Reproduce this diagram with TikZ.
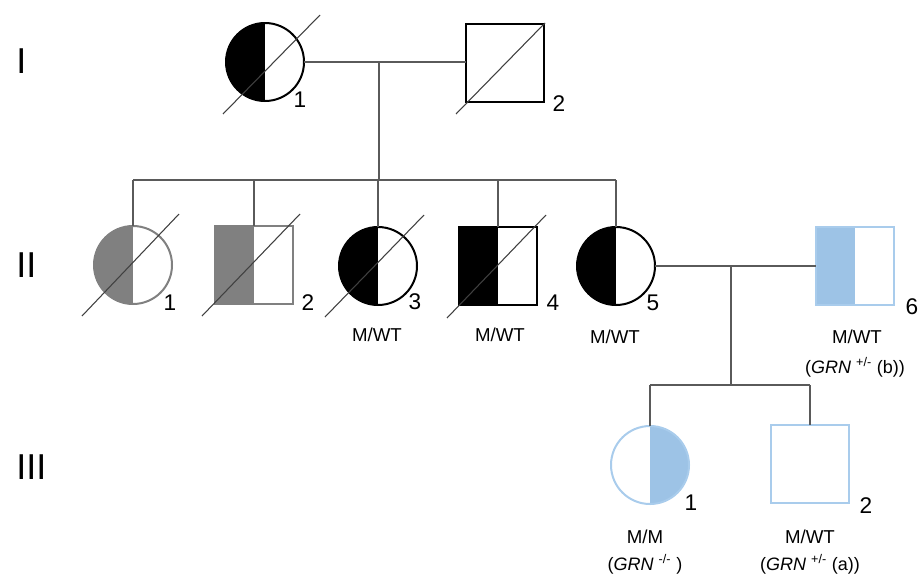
\documentclass[tikz,border=0pt]{standalone}
\usepackage{fontspec}
\setmainfont{Liberation Sans}
\usetikzlibrary{calc}
\definecolor{pedblue}{HTML}{9DC3E6}
\definecolor{pedblueline}{HTML}{A9CCEC}
\definecolor{pedgray}{HTML}{808080}
\definecolor{pedline}{HTML}{5A5A5A}
\definecolor{pedslash}{HTML}{404040}

\begin{document}
\begin{tikzpicture}[x=0.75pt,y=-0.75pt,
  female/.style={circle,draw=black,line width=1.5pt,minimum size=58.5pt,inner sep=0pt,outer sep=0pt,fill=white},
  male/.style={rectangle,draw=black,line width=1.5pt,minimum size=58.5pt,inner sep=0pt,outer sep=0pt,fill=white},
  lefthalf/.style={path picture={\fill[#1] (path picture bounding box.south west) rectangle (path picture bounding box.north);}},
  righthalf/.style={path picture={\fill[#1] (path picture bounding box.south) rectangle (path picture bounding box.north east);}},
  grayind/.style={draw=pedgray,lefthalf=pedgray},
  rel/.style={draw=pedline,line width=0.9pt},
  deceased/.style={draw=pedslash,line width=0.8pt},
  num/.style={font=\fontsize{17}{20}\selectfont,inner sep=0pt},
  geno/.style={font=\fontsize{14}{17}\selectfont,inner sep=0pt},
  gene/.style={font=\fontsize{13.5}{16}\selectfont,inner sep=0pt},
  gen/.style={font=\fontsize{27}{31}\selectfont,inner sep=0pt,anchor=west}]
\useasboundingbox (0,0) rectangle (919,575);

% generation labels
\node[gen] (gI) at (16,61) {I};
\node[gen] (gII) at (16,265) {II};
\node[gen] (gIII) at (16,467) {III};

% generation I
\node[female,lefthalf=black] (I1) at (265,62) {};
\node[male] (I2) at (505,63) {};

% generation II
\node[female,grayind] (II1) at (133,265) {};
\node[male,grayind] (II2) at (254,265) {};
\node[female,lefthalf=black] (II3) at (378,266) {};
\node[male,lefthalf=black] (II4) at (498,266) {};
\node[female,lefthalf=black] (II5) at (616,266) {};
\node[male,draw=pedblueline,lefthalf=pedblue] (II6) at (855,266) {};

% generation III
\node[female,draw=pedblueline,righthalf=pedblue] (III1) at (650,465) {};
\node[male,draw=pedblueline] (III2) at (810,464) {};

% deceased marks
\draw[deceased] ($(I1.center)+(-42,52)$) -- ($(I1.center)+(55,-47)$);
\draw[deceased] ($(I2.center)+(-49,51)$) -- ($(I2.center)+(40,-40)$);
\draw[deceased] ($(II1.center)+(-51,51)$) -- ($(II1.center)+(46,-51)$);
\draw[deceased] ($(II2.center)+(-52,51)$) -- ($(II2.center)+(46,-51)$);
\draw[deceased] ($(II3.center)+(-53,51)$) -- ($(II3.center)+(46,-51)$);
\draw[deceased] ($(II4.center)+(-51,52)$) -- ($(II4.center)+(48,-51)$);

% mating and sibship lines
\coordinate (m1) at (379,62);
\coordinate (s1) at (379,180);
\draw[rel] (I1.east) -- (I1.east -| I2.west);
\draw[rel] (m1) -- (s1);
\draw[rel] (II1.north |- s1) -- (II5.north |- s1);
\foreach \c in {II1,II2,II3,II4,II5}
  \draw[rel] (\c.north) -- (\c.north |- s1);

\coordinate (m2) at (731,266);
\coordinate (s2) at (731,385);
\draw[rel] (II5.east) -- (II6.west);
\draw[rel] (m2) -- (s2);
\draw[rel] (III1.north |- s2) -- (III2.north |- s2);
\foreach \c in {III1,III2}
  \draw[rel] (\c.north) -- (\c.north |- s2);

% individual numbers
\node[num] (nI1) at ($(I1.center)+(35,38)$) {1};
\node[num] (nI2) at ($(I2.center)+(54,41)$) {2};
\node[num] (nII1) at ($(II1.center)+(37,38)$) {1};
\node[num] (nII2) at ($(II2.center)+(54,38)$) {2};
\node[num] (nII3) at ($(II3.center)+(37,36)$) {3};
\node[num] (nII4) at ($(II4.center)+(55,37)$) {4};
\node[num] (nII5) at ($(II5.center)+(37,37)$) {5};
\node[num] (nII6) at ($(II6.center)+(57,41)$) {6};
\node[num] (nIII1) at ($(III1.center)+(41,38)$) {1};
\node[num] (nIII2) at ($(III2.center)+(56,42)$) {2};

% genotypes
\node[geno] (gtII3) at (377,335) {M/WT};
\node[geno] (gtII4) at (500,335) {M/WT};
\node[geno] (gtII5) at (615,337) {M/WT};
\node[geno] (gtII6) at (857,337) {M/WT};
\node[gene] (grII6) at (855,367) {(\textit{GRN} \textsuperscript{+/-} (b))};
\node[geno] (gtIII1) at (645,537) {M/M};
\node[gene] (grIII1) at (645,564) {(\textit{GRN} \textsuperscript{-/-} )};
\node[geno] (gtIII2) at (810,537) {M/WT};
\node[gene] (grIII2) at (810,564) {(\textit{GRN} \textsuperscript{+/-} (a))};
\end{tikzpicture}
\end{document}
